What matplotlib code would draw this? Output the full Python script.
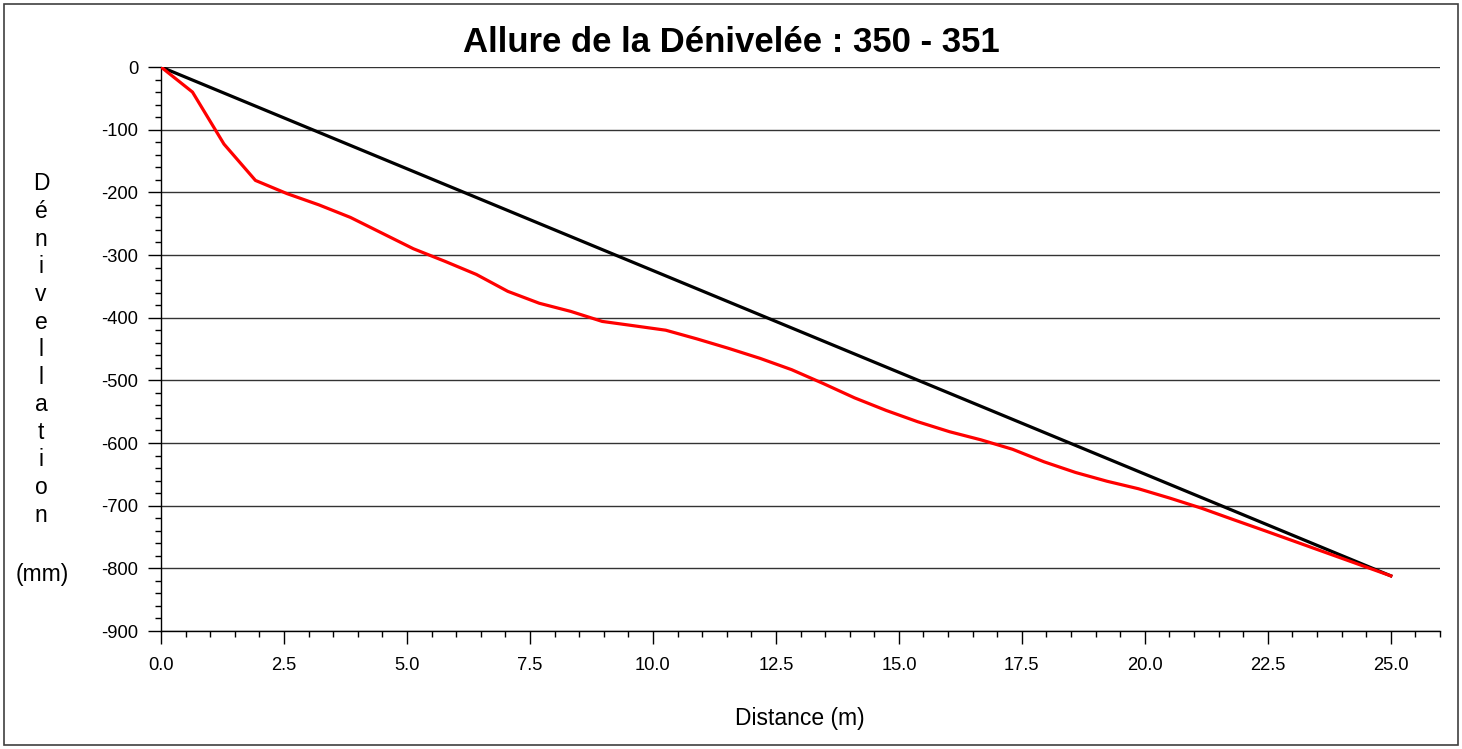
import matplotlib
matplotlib.use("Agg")
import matplotlib.pyplot as plt
from matplotlib.patches import Rectangle
from matplotlib.ticker import MultipleLocator, FormatStrFormatter

plt.rcParams['font.family'] = ['Liberation Sans', 'DejaVu Sans']
plt.rcParams['axes.unicode_minus'] = False

# measured profile (red) and straight slope (black)
distance = [0.0, 0.64, 1.28, 1.92, 2.56, 3.21, 3.85, 4.49, 5.13, 5.77,
            6.41, 7.05, 7.69, 8.33, 8.97, 9.62, 10.26, 10.90, 11.54, 12.18,
            12.82, 13.46, 14.10, 14.74, 15.38, 16.03, 16.67, 17.31, 17.95, 18.59,
            19.23, 19.87, 20.51, 21.15, 21.79, 22.44, 23.08, 23.72, 24.36, 25.0]
denivellation = [0, -40, -123, -181, -202, -220, -240, -265, -290, -310,
                 -331, -358, -377, -390, -406, -413, -420, -434, -449, -465,
                 -483, -505, -528, -548, -566, -582, -595, -610, -630, -647,
                 -661, -673, -688, -704, -722, -740, -758, -776, -794, -812]
slope_x = [0.0, 25.0]
slope_y = [0, -812]

title = "Allure de la Dénivelée : 350 - 351"
ylabel_word = "Dénivellation"

W, H = 1462, 749
fig = plt.figure(figsize=(W / 100, H / 100), dpi=100)
fig.patches.append(Rectangle((4 / W, 4 / H), 1 - 8 / W, 1 - 8 / H, transform=fig.transFigure,
                             fill=False, edgecolor='#404040', linewidth=1.2))

ax = fig.add_axes([161 / W, (H - 631) / H, (1440 - 161) / W, (631 - 67) / H])
ax.set_xlim(0, 26)
ax.set_ylim(-900, 0)

ax.plot(slope_x, slope_y, color='black', linewidth=2.3, zorder=3)
ax.plot(distance, denivellation, color='#ff0000', linewidth=2.3, zorder=4)

ax.xaxis.set_major_locator(MultipleLocator(2.5))
ax.xaxis.set_minor_locator(MultipleLocator(0.5))
ax.xaxis.set_major_formatter(FormatStrFormatter('%.1f'))
ax.yaxis.set_major_locator(MultipleLocator(100))
ax.yaxis.set_minor_locator(MultipleLocator(20))

ax.grid(axis='y', which='major', color='#333333', linewidth=1.0)
ax.tick_params(axis='both', which='major', length=9.4, width=1, labelsize=13.2, color='black')
ax.tick_params(axis='both', which='minor', length=4.3, width=1, color='black')
ax.tick_params(axis='y', which='major', pad=7)
ax.tick_params(axis='x', which='major', pad=9)

for s in ['top', 'right']:
    ax.spines[s].set_visible(False)
for s in ['left', 'bottom']:
    ax.spines[s].set_color('black')
    ax.spines[s].set_linewidth(1.0)

fig.text(731 / W, 1 - 42 / H, title, ha='center', va='center', fontsize=25, fontweight='bold')
fig.text(800 / W, 1 - 719 / H, "Distance (m)", ha='center', va='center', fontsize=16.5)

# stacked vertical y label
for i, ch in enumerate(ylabel_word):
    fig.text(41 / W, 1 - (184 + i * 27.6) / H, ch, ha='center', va='center', fontsize=16.5)
fig.text(42 / W, 1 - 574 / H, "(mm)", ha='center', va='center', fontsize=16.5)

fig.savefig("out.png", dpi=100)
